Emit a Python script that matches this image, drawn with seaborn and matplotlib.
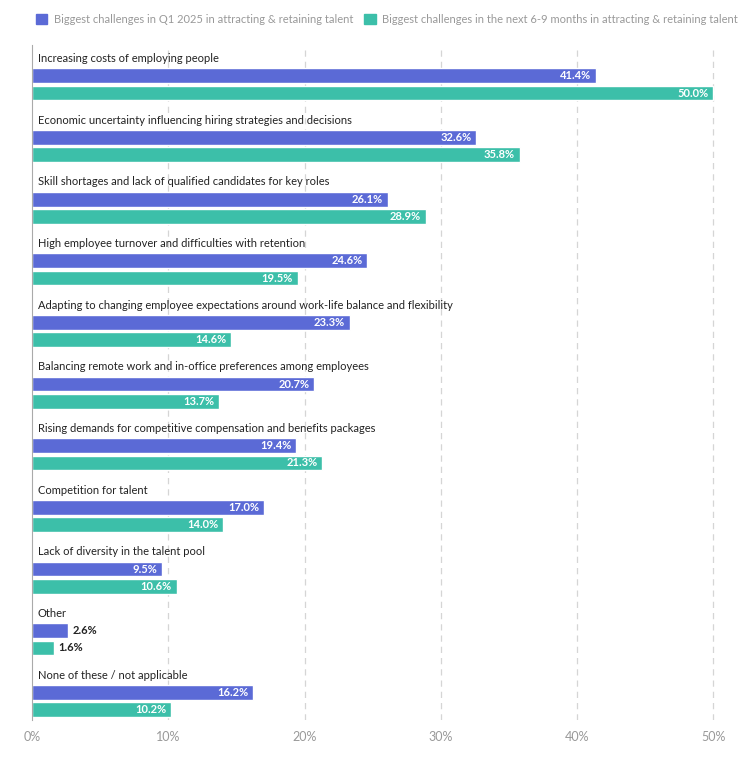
import matplotlib.pyplot as plt
import matplotlib.patches as mpatches
import seaborn as sns
import pandas as pd

categories = [
    "Increasing costs of employing people",
    "Economic uncertainty influencing hiring strategies and decisions",
    "Skill shortages and lack of qualified candidates for key roles",
    "High employee turnover and difficulties with retention",
    "Adapting to changing employee expectations around work-life balance and flexibility",
    "Balancing remote work and in-office preferences among employees",
    "Rising demands for competitive compensation and benefits packages",
    "Competition for talent",
    "Lack of diversity in the talent pool",
    "Other",
    "None of these / not applicable",
]
q1_2025 = [41.4, 32.6, 26.1, 24.6, 23.3, 20.7, 19.4, 17.0, 9.5, 2.6, 16.2]
next_6_9 = [50.0, 35.8, 28.9, 19.5, 14.6, 13.7, 21.3, 14.0, 10.6, 1.6, 10.2]
series = [
    "Biggest challenges in Q1 2025 in attracting & retaining talent",
    "Biggest challenges in the next 6-9 months in attracting & retaining talent",
]
BLUE = "#5b6ad6"
TEAL = "#3cbfa9"

sns.set_style("white")
plt.rcParams["font.family"] = ["Lato", "DejaVu Sans"]

rows = []
for c, a, b in zip(categories, q1_2025, next_6_9):
    rows.append({"cat": c, "series": "_label", "value": 0})
    rows.append({"cat": c, "series": series[0], "value": a})
    rows.append({"cat": c, "series": series[1], "value": b})
df = pd.DataFrame(rows)

fig = plt.figure(figsize=(7.47, 7.62), dpi=100)
ax = fig.add_axes([0.043, 0.055, 0.930, 0.886])

sns.barplot(data=df, y="cat", x="value", hue="series", order=categories,
            hue_order=["_label"] + series, palette=["white", BLUE, TEAL],
            saturation=1, orient="h", width=0.84, gap=0.14, legend=False, ax=ax)

ax.set_xlim(0, 51)
ax.set_ylim(10.45, -0.5)
ax.set_xticks([0, 10, 20, 30, 40, 50])
ax.set_xticklabels([f"{t}%" for t in [0, 10, 20, 30, 40, 50]], color="#999999", fontsize=9)
ax.set_yticks([])
ax.set_xlabel("")
ax.set_ylabel("")
for x in [10, 20, 30, 40, 50]:
    ax.axvline(x, color="#d5d5d5", ls=(0, (5, 4)), lw=0.9, zorder=0)
for s in ["top", "right", "bottom"]:
    ax.spines[s].set_visible(False)
ax.spines["left"].set_color("#aaaaaa")
ax.tick_params(axis="x", length=0, pad=8)

off = 0.28
for i, c in enumerate(categories):
    ax.text(0.4, i - off, c, va="center", ha="left", fontsize=8, color="#222222")
    for v, dy in [(q1_2025[i], 0), (next_6_9[i], off)]:
        if v > 5:
            ax.text(v - 0.35, i + dy, f"{v:.1f}%", va="center", ha="right",
                    fontsize=8, color="white", fontweight="bold")
        else:
            ax.text(v + 0.35, i + dy, f"{v:.1f}%", va="center", ha="left",
                    fontsize=8, color="#222222", fontweight="bold")

handles = [mpatches.Patch(color=BLUE, label=series[0]),
           mpatches.Patch(color=TEAL, label=series[1])]
leg = fig.legend(handles=handles, loc="upper left", bbox_to_anchor=(0.035, 0.995),
                 ncol=2, frameon=False, fontsize=8, handlelength=1.0,
                 handleheight=1.0, columnspacing=1.0, handletextpad=0.6)
for t in leg.get_texts():
    t.set_color("#999999")

fig.savefig("out.png")
